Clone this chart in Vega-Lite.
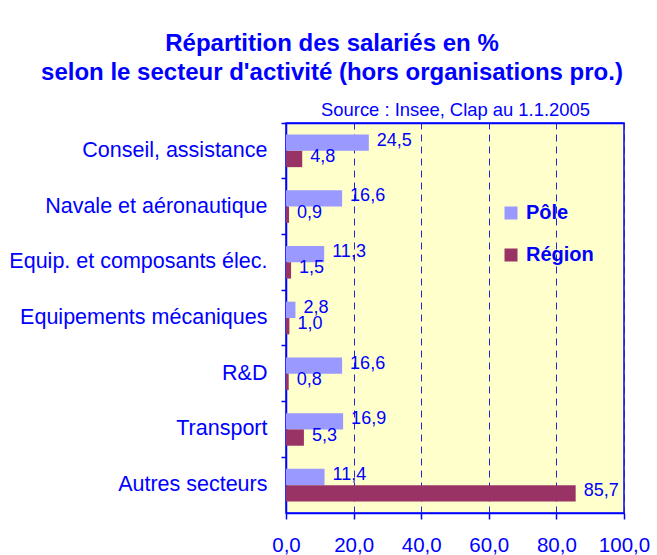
{
  "$schema": "https://vega.github.io/schema/vega-lite/v6.json",
  "width": 338,
  "height": 390,
  "autosize": {"type": "none"},
  "padding": {"left": 286, "top": 123, "right": 33, "bottom": 42},
  "background": "white",
  "config": {
    "locale": {"number": {"decimal": ",", "thousands": " ", "grouping": [3], "currency": ["", " €"]}},
    "font": "Liberation Sans",
    "view": {"fill": "#ffffcc", "stroke": "#0000ff", "strokeWidth": 1.5}
  },
  "title": {
    "text": ["Répartition des salariés en %", "selon le secteur d'activité (hors organisations pro.)"],
    "font": "Liberation Sans",
    "fontSize": 24,
    "fontWeight": "bold",
    "color": "#0000ff",
    "lineHeight": 29,
    "anchor": "middle",
    "frame": "group",
    "dx": -123,
    "offset": 15
  },
  "data": {
    "values": [
      {"secteur": "Conseil, assistance", "serie": "Pôle", "valeur": 24.5},
      {"secteur": "Conseil, assistance", "serie": "Région", "valeur": 4.8},
      {"secteur": "Navale et aéronautique", "serie": "Pôle", "valeur": 16.6},
      {"secteur": "Navale et aéronautique", "serie": "Région", "valeur": 0.9},
      {"secteur": "Equip. et composants élec.", "serie": "Pôle", "valeur": 11.3},
      {"secteur": "Equip. et composants élec.", "serie": "Région", "valeur": 1.5},
      {"secteur": "Equipements mécaniques", "serie": "Pôle", "valeur": 2.8},
      {"secteur": "Equipements mécaniques", "serie": "Région", "valeur": 1.0},
      {"secteur": "R&D", "serie": "Pôle", "valeur": 16.6},
      {"secteur": "R&D", "serie": "Région", "valeur": 0.8},
      {"secteur": "Transport", "serie": "Pôle", "valeur": 16.9},
      {"secteur": "Transport", "serie": "Région", "valeur": 5.3},
      {"secteur": "Autres secteurs", "serie": "Pôle", "valeur": 11.4},
      {"secteur": "Autres secteurs", "serie": "Région", "valeur": 85.7}
    ]
  },
  "layer": [
    {
      "mark": {"type": "bar"},
      "encoding": {
        "y": {
          "field": "secteur", "type": "nominal", "sort": null,
          "scale": {"paddingInner": 0, "paddingOuter": 0},
          "axis": {
            "title": null, "bandPosition": 0,
            "tickSize": 5, "labelPadding": 14, "labelFontSize": 21.5,
            "labelColor": "#0000ff", "domainColor": "#0000ff", "tickColor": "#0000ff",
            "domainWidth": 1.5, "tickWidth": 1.5, "labelLimit": 300, "grid": false
          }
        },
        "x": {
          "field": "valeur", "type": "quantitative",
          "scale": {"domain": [0, 100]},
          "axis": {
            "title": null, "values": [0, 20, 40, 60, 80, 100], "format": ".1f",
            "labelFontSize": 20.5, "labelColor": "#0000ff", "domainColor": "#0000ff",
            "tickColor": "#0000ff", "tickSize": 6, "tickWidth": 1.5, "domainWidth": 1.5,
            "labelPadding": 16, "labelFlush": false,
            "grid": true, "gridColor": "#2222dd", "gridDash": [7, 5], "gridOpacity": 1
          }
        },
        "yOffset": {"field": "serie", "type": "nominal", "sort": ["Pôle", "Région"], "scale": {"paddingInner": 0, "paddingOuter": 0.71}},
        "color": {
          "field": "serie", "type": "nominal",
          "scale": {"domain": ["Pôle", "Région"], "range": ["#9999ff", "#993366"]},
          "legend": {
            "orient": "none", "legendX": 215, "legendY": 80, "title": null,
            "labelFontSize": 20, "labelFontWeight": "bold", "labelColor": "#0000ff",
            "symbolType": "square", "symbolSize": 169, "symbolStrokeWidth": 0,
            "rowPadding": 22, "labelOffset": 5, "padding": 0
          }
        }
      }
    },
    {
      "mark": {"type": "text", "align": "left", "baseline": "middle", "dx": 8, "dy": -2, "fontSize": 18, "color": "#0000ff"},
      "encoding": {
        "y": {"field": "secteur", "type": "nominal", "sort": null},
        "x": {
          "field": "valeur", "type": "quantitative",
          "axis": {
            "orient": "top", "title": "Source : Insee, Clap au 1.1.2005",
            "titleFontSize": 18.4, "titleFontWeight": "normal", "titleColor": "#0000ff",
            "titlePadding": 4, "labels": false, "ticks": false, "grid": false,
            "domainColor": "#0000ff", "domainWidth": 1.5
          }
        },
        "yOffset": {"field": "serie", "type": "nominal", "sort": ["Pôle", "Région"]},
        "text": {"field": "valeur", "type": "quantitative", "format": ".1f"}
      }
    }
  ],
  "resolve": {"axis": {"x": "independent"}}
}
